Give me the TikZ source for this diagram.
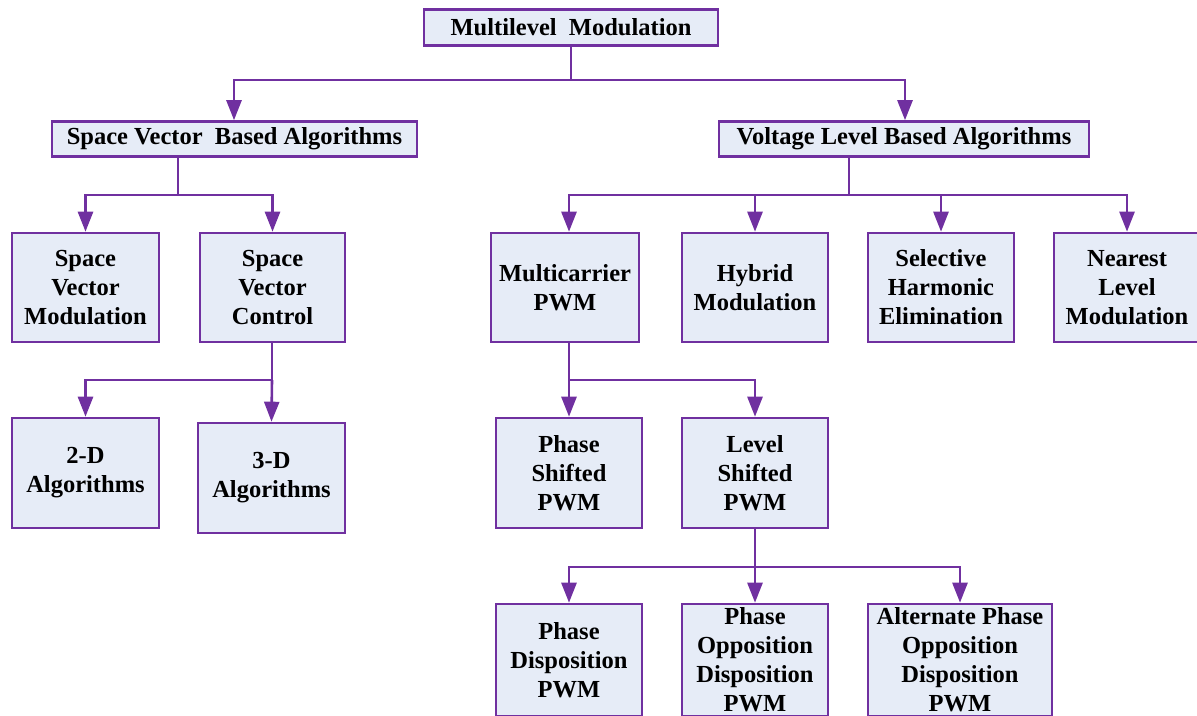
\documentclass[tikz,border=0pt]{standalone}
\usepackage{fontspec}
\setmainfont{Liberation Serif}
\usetikzlibrary{arrows.meta}
\definecolor{boxline}{HTML}{7030A0}
\definecolor{boxfill}{HTML}{E6ECF7}
\begin{document}
\begin{tikzpicture}[x=1pt,y=-1pt,
  box/.style={draw=boxline,fill=boxfill,line width=2.6pt,inner sep=0pt,align=center,
    font=\fontsize{24.5}{29}\selectfont\bfseries},
  conn/.style={draw=boxline,line width=2.6pt},
  arr/.style={conn,-{Triangle[length=20pt,width=15pt]}}]
\useasboundingbox (0,0) rectangle (1197,715);
\clip (0,0) rectangle (1197,715);
% boxes
\node[box,minimum width=294,minimum height=36] (top) at (571,27.5) {Multilevel\ \ Modulation};
\node[box,minimum width=365,minimum height=35] (svba) at (234.5,139) {Space Vector\ \ Based Algorithms};
\node[box,minimum width=370,minimum height=35] (vlba) at (904,139) {Voltage Level Based Algorithms};
\node[box,minimum width=147,minimum height=109] (svm) at (85.5,287.5) {Space\\Vector\\Modulation};
\node[box,minimum width=145,minimum height=109] (svc) at (272.5,287.5) {Space\\Vector\\Control};
\node[box,minimum width=147,minimum height=110] (twod) at (85.5,473) {2-D\\Algorithms};
\node[box,minimum width=147,minimum height=110] (threed) at (271.5,478) {3-D\\Algorithms};
\node[box,minimum width=148,minimum height=109] (mc) at (565,287.5) {Multicarrier\\PWM};
\node[box,minimum width=146,minimum height=109] (hyb) at (755,287.5) {Hybrid\\Modulation};
\node[box,minimum width=146,minimum height=109] (she) at (941,287.5) {Selective\\Harmonic\\Elimination};
\node[box,minimum width=146,minimum height=109] (nlm) at (1127,287.5) {Nearest\\Level\\Modulation};
\node[box,minimum width=146,minimum height=110] (ps) at (569,473) {Phase\\Shifted\\PWM};
\node[box,minimum width=146,minimum height=110] (ls) at (755,473) {Level\\Shifted\\PWM};
\node[box,minimum width=146,minimum height=112] (pd) at (569,660) {Phase\\Disposition\\PWM};
\node[box,minimum width=146,minimum height=112] (pod) at (755,660) {Phase\\Opposition\\Disposition\\PWM};
\node[box,minimum width=184,minimum height=112] (apod) at (960,660) {Alternate Phase\\Opposition\\Disposition\\PWM};
% junctions
\coordinate (j1) at (571,80);
\coordinate (j2) at (178,195);
\coordinate (j3) at (849,195);
\coordinate (j4) at (272,380);
\coordinate (j5) at (569,380);
\coordinate (j6) at (755,567);
% connectors
\draw[conn] (top.south) -- (j1);
\draw[arr] (j1) -| ([xshift=-0.5pt]svba.north);
\draw[arr] (j1) -| ([xshift=1pt]vlba.north);
\draw[conn] (j2 |- svba.south) -- (j2);
\draw[arr] (j2) -| (svm.north);
\draw[arr] (j2) -| (svc.north);
\draw[conn] (j3 |- vlba.south) -- (j3);
\draw[arr] (j3) -| ([xshift=4pt]mc.north);
\draw[arr] (j3) -| (hyb.north);
\draw[arr] (j3) -| (she.north);
\draw[arr] (j3) -| (nlm.north);
\draw[conn] (j4 |- svc.south) -- (j4);
\draw[arr] (j4) -| (twod.north);
\draw[arr] (j4) -- (threed.north);
\draw[conn] (j5 |- mc.south) -- (j5);
\draw[arr] (j5) -- (ps.north);
\draw[arr] (j5) -| (ls.north);
\draw[conn] (ls.south) -- (j6);
\draw[arr] (j6) -| (pd.north);
\draw[arr] (j6) -- (pod.north);
\draw[arr] (j6) -| (apod.north);
\end{tikzpicture}
\end{document}
